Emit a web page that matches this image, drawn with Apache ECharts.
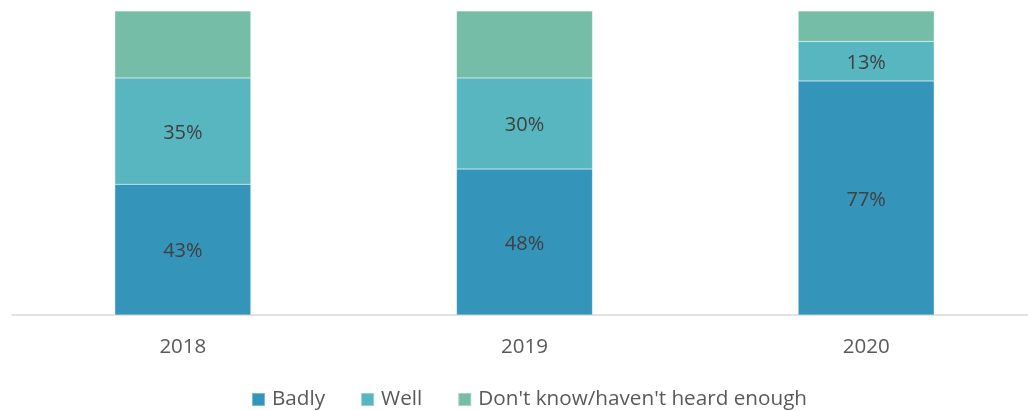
<!DOCTYPE html>
<html>
<head>
<meta charset="utf-8">
<script src="https://cdn.jsdelivr.net/npm/echarts@6/dist/echarts.min.js"></script>
<style>
  html, body { margin: 0; padding: 0; background: #fff; }
  #chart { width: 1028px; height: 411px; }
</style>
</head>
<body>
<div id="chart"></div>
<script>
const years = ['2018', '2019', '2020']
const badly = [43, 48, 77]
const well = [35, 30, 13]
const dontKnow = [22, 22, 10]

const font = '"Open Sans", "Liberation Sans", sans-serif'

let myChart = echarts.init(document.getElementById('chart'))

function pctLabel(show) {
  return {
    show: show,
    position: 'inside',
    offset: [0, 2],
    formatter: '{c}%',
    color: '#404040',
    fontFamily: font,
    fontSize: 20
  }
}

myChart.setOption({
  animation: false,
  grid: { left: 12, top: 11, width: 1025, bottom: 96, outerBoundsMode: 'none', containLabel: false },
  legend: {
    bottom: -4,
    left: 246,
    itemWidth: 13,
    itemHeight: 13,
    itemGap: 35,
    icon: 'rect',
    textStyle: { color: '#595959', fontFamily: font, fontSize: 20.7, padding: [0, 0, 0, 2] },
    data: ['Badly', 'Well', "Don't know/haven't heard enough"]
  },
  xAxis: {
    type: 'category',
    data: years,
    axisLine: { lineStyle: { color: '#d9d9d9', width: 1.5 } },
    axisTick: { show: false },
    axisLabel: { color: '#595959', fontFamily: font, fontSize: 20.5, margin: 22 }
  },
  yAxis: {
    type: 'value',
    min: 0,
    max: 100,
    show: false,
    splitLine: { show: false }
  },
  series: [
    {
      name: 'Badly', type: 'bar', stack: 'a', barWidth: 136, data: badly,
      itemStyle: { color: '#3494BA', borderColor: 'rgba(255,255,255,0.35)', borderWidth: 0.5 },
      label: pctLabel(true)
    },
    {
      name: 'Well', type: 'bar', stack: 'a', data: well,
      itemStyle: { color: '#58B6C0', borderColor: 'rgba(255,255,255,0.35)', borderWidth: 0.5 },
      label: pctLabel(true)
    },
    {
      name: "Don't know/haven't heard enough", type: 'bar', stack: 'a', data: dontKnow,
      itemStyle: { color: '#75BDA7', borderColor: 'rgba(255,255,255,0.35)', borderWidth: 0.5 },
      label: pctLabel(false)
    }
  ]
})
</script>
</body>
</html>
